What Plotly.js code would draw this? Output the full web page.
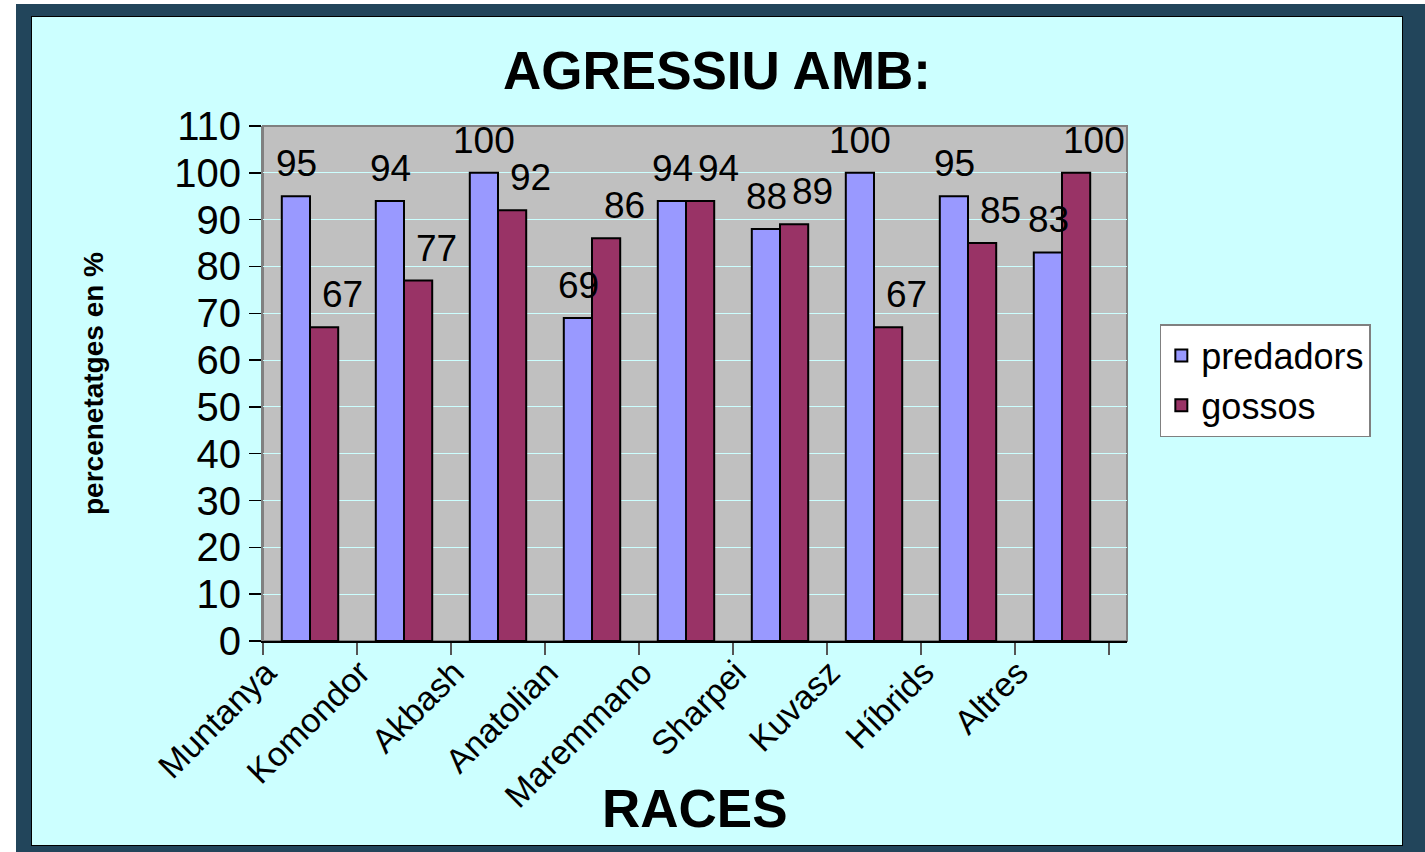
<!DOCTYPE html>
<html>
<head>
<meta charset="utf-8">
<script src="https://cdn.plot.ly/plotly-3.0.1.min.js"></script>
<style>
  html, body { margin: 0; padding: 0; background: #ffffff; width: 1425px; height: 852px; overflow: hidden; }
  #frame { position: absolute; left: 16px; top: 4px; width: 1409px; height: 848px; background: #22455b; }
  #chart { position: absolute; left: 31px; top: 16px; width: 1370px; height: 828px; border: 1px solid #000; }
</style>
</head>
<body>
<div id="frame"></div>
<div id="chart"></div>
<script>
const categories = ["Muntanya", "Komondor", "Akbash", "Anatolian", "Maremmano", "Sharpei", "Kuvasz", "Híbrids", "Altres"];
const predadors = [95, 94, 100, 69, 94, 88, 100, 95, 83];
const gossos = [67, 77, 92, 86, 94, 89, 67, 85, 100];
const yTicks = [0, 10, 20, 30, 40, 50, 60, 70, 80, 90, 100, 110];

const FONT = "Liberation Sans, Arial, sans-serif";

const traces = [
  { type: "bar", name: "predadors", x: categories, y: predadors,
    marker: { color: "#9999ff", line: { color: "#000000", width: 2 } }, hoverinfo: "x+y" },
  { type: "bar", name: "gossos", x: categories, y: gossos,
    marker: { color: "#993366", line: { color: "#000000", width: 2 } }, hoverinfo: "x+y" }
];

const annotations = [];
categories.forEach((c, i) => {
  annotations.push({ x: c, y: predadors[i], xref: "x", yref: "y", text: String(predadors[i]),
    showarrow: false, xanchor: "center", yanchor: "bottom", xshift: -14, yshift: 10,
    font: { family: FONT, size: 37, color: "#000" } });
  annotations.push({ x: c, y: gossos[i], xref: "x", yref: "y", text: String(gossos[i]),
    showarrow: false, xanchor: "center", yanchor: "bottom", xshift: 32, yshift: 10,
    font: { family: FONT, size: 37, color: "#000" } });
});
annotations.push({ text: "<b>RACES</b>", xref: "paper", yref: "paper", x: 0.5, y: -0.326,
  xanchor: "center", yanchor: "middle", showarrow: false,
  font: { family: FONT, size: 53, color: "#000" } });

const layout = {
  width: 1370, height: 828,
  margin: { l: 231, r: 275, t: 109, b: 204 },
  paper_bgcolor: "#ccffff",
  plot_bgcolor: "#c0c0c0",
  font: { family: FONT, color: "#000" },
  title: { text: "<b>AGRESSIU AMB:</b>", x: 0.5, xref: "container", xanchor: "center",
    y: 0.935, yref: "container", yanchor: "middle",
    font: { family: FONT, size: 53, color: "#000" } },
  barmode: "group",
  bargap: 0.4,
  bargroupgap: 0,
  xaxis: {
    type: "category",
    tickangle: -45,
    tickson: "boundaries",
    ticks: "outside", ticklen: 12, tickcolor: "#555", tickwidth: 1.5,
    ticklabelshift: -44,
    ticklabelstandoff: -4,
    tickfont: { family: FONT, size: 34, color: "#000" },
    showline: true, linecolor: "#000", linewidth: 2,
    showgrid: false, automargin: false, fixedrange: true
  },
  yaxis: {
    range: [0, 110],
    tickvals: yTicks,
    ticktext: yTicks.map(String),
    ticks: "outside", ticklen: 12, tickcolor: "#000", tickwidth: 1.5,
    tickfont: { family: FONT, size: 40, color: "#000" },
    showline: true, linecolor: "#808080", linewidth: 2,
    showgrid: true, gridcolor: "#ccffff", gridwidth: 1,
    zeroline: false, automargin: false, fixedrange: true,
    title: { text: "<b>percenetatges en %</b>", standoff: 62,
      font: { family: FONT, size: 28, color: "#000" } }
  },
  legend: {
    x: 1.038, y: 0.6155, xanchor: "left", yanchor: "top",
    bgcolor: "#ffffff", bordercolor: "#808080", borderwidth: 1.5,
    font: { family: FONT, size: 36, color: "#000" },
    itemsizing: "constant", tracegroupgap: 6
  },
  shapes: [
    { type: "rect", xref: "paper", yref: "paper", x0: 0, x1: 1, y0: 0, y1: 1,
      line: { color: "#808080", width: 2 }, layer: "below" }
  ],
  annotations: annotations,
  showlegend: true
};

Plotly.newPlot("chart", traces, layout, { displayModeBar: false, staticPlot: true });
</script>
</body>
</html>
